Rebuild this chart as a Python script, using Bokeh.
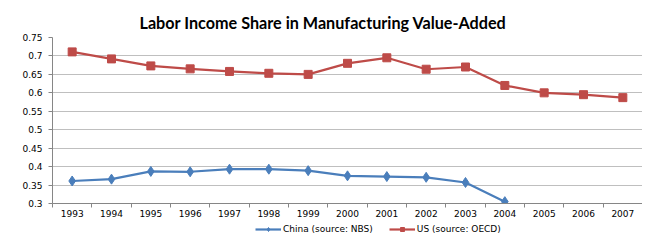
from bokeh.plotting import figure
from bokeh.layouts import column
from bokeh.models import Range1d, FixedTicker, Legend, LegendItem, ColumnDataSource, Title
from bokeh.embed import file_html
from bokeh.resources import INLINE

years = list(range(1993, 2008))
china_years = list(range(1993, 2005))
china = [0.361, 0.366, 0.387, 0.386, 0.393, 0.393, 0.389, 0.375, 0.373, 0.371, 0.357, 0.305]
us = [0.711, 0.692, 0.673, 0.665, 0.658, 0.653, 0.650, 0.680, 0.695, 0.664, 0.670, 0.620, 0.600, 0.595, 0.587]
y_ticks = [0.3, 0.35, 0.4, 0.45, 0.5, 0.55, 0.6, 0.65, 0.7, 0.75]
y_labels = ["0.3", "0.35", "0.4", "0.45", "0.5", "0.55", "0.6", "0.65", "0.7", "0.75"]

BLUE = "#4A7EBB"
RED = "#BE4B48"
GRID = "#BFBFBF"
AXIS = "#868686"
FONT = "DejaVu Sans"

p = figure(frame_width=590, frame_height=166, output_backend="svg", toolbar_location=None,
           x_range=Range1d(1992.5, 2007.5), y_range=Range1d(0.3, 0.75),
           min_border_left=52, min_border_right=0, min_border_top=37, min_border_bottom=0)
p.outline_line_color = None
p.background_fill_color = "white"
p.border_fill_color = "white"

p.title = Title(text="Labor Income Share in Manufacturing Value-Added", align="left",
                text_font="Lato", text_font_style="bold", text_font_size="16.2px",
                text_color="#000000", offset=87, vertical_align="middle")

p.xgrid.visible = False
p.ygrid.ticker = FixedTicker(ticks=y_ticks)
p.ygrid.grid_line_color = GRID
p.ygrid.grid_line_width = 1.2

p.yaxis.ticker = FixedTicker(ticks=y_ticks)
p.yaxis.major_label_overrides = {t: l for t, l in zip(y_ticks, y_labels)}
p.yaxis.minor_tick_line_color = None
p.yaxis.major_tick_in = 0
p.yaxis.major_tick_out = 4
p.yaxis.axis_line_color = AXIS
p.yaxis.major_tick_line_color = AXIS
p.yaxis.major_label_text_font = FONT
p.yaxis.major_label_text_font_size = "9px"
p.yaxis.major_label_text_color = "#000000"
p.yaxis.major_label_standoff = 6

p.xaxis.ticker = FixedTicker(ticks=years, minor_ticks=[y - 0.5 for y in years] + [2007.5])
p.xaxis.major_tick_in = 0
p.xaxis.major_tick_out = 0
p.xaxis.minor_tick_in = 0
p.xaxis.minor_tick_out = 4
p.xaxis.minor_tick_line_color = AXIS
p.xaxis.axis_line_color = AXIS
p.xaxis.major_label_text_font = FONT
p.xaxis.major_label_text_font_size = "9px"
p.xaxis.major_label_text_color = "#000000"
p.xaxis.major_label_standoff = 2

cs = ColumnDataSource(dict(x=china_years, y=china))
us_src = ColumnDataSource(dict(x=years, y=us))

p.line("x", "y", source=cs, line_color=BLUE, line_width=2.2)
p.scatter("x", "y", source=cs, marker="diamond", size=10, fill_color=BLUE, line_color=BLUE)
p.line("x", "y", source=us_src, line_color=RED, line_width=2.2)
p.scatter("x", "y", source=us_src, marker="square", size=8, fill_color=RED, line_color=RED)

# separate strip holding the legend below the chart
p2 = figure(width=642, height=18, output_backend="svg", toolbar_location=None,
            x_range=Range1d(0, 1), y_range=Range1d(0, 1), min_border=0,
            x_axis_location=None, y_axis_location=None)
p2.grid.visible = False
p2.outline_line_color = None
p2.background_fill_color = "white"
p2.border_fill_color = "white"

k1 = p2.line("x", "y", source=cs, line_color=BLUE, line_width=2.2)
q1 = p2.scatter("x", "y", source=cs, marker="diamond", size=10, fill_color=BLUE, line_color=BLUE)
k2 = p2.line("x", "y", source=us_src, line_color=RED, line_width=2.2)
q2 = p2.scatter("x", "y", source=us_src, marker="square", size=8, fill_color=RED, line_color=RED)

legend = Legend(items=[LegendItem(label="China (source: NBS)", renderers=[k1, q1]),
                       LegendItem(label="US (source: OECD)", renderers=[k2, q2])],
                orientation="horizontal", location=(203, 3),
                label_text_font=FONT, label_text_font_size="9px", label_text_color="#000000",
                glyph_width=26, glyph_height=10, label_height=10, label_standoff=2,
                spacing=16, padding=0, margin=0, border_line_color=None,
                background_fill_alpha=0)
p2.add_layout(legend, "center")

layout = column(p, p2, spacing=0)
open("out.html", "w").write(file_html(layout, INLINE))
